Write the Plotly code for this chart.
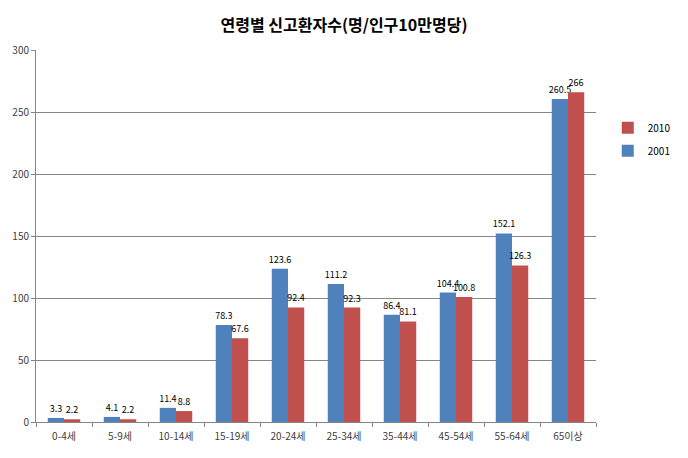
import plotly.graph_objects as go

categories = ["0-4세", "5-9세", "10-14세", "15-19세", "20-24세", "25-34세", "35-44세", "45-54세", "55-64세", "65이상"]
values_2001 = [3.3, 4.1, 11.4, 78.3, 123.6, 111.2, 86.4, 104.4, 152.1, 260.5]
values_2010 = [2.2, 2.2, 8.8, 67.6, 92.4, 92.3, 81.1, 100.8, 126.3, 266]
labels_2001 = ["3.3", "4.1", "11.4", "78.3", "123.6", "111.2", "86.4", "104.4", "152.1", "260.5"]
labels_2010 = ["2.2", "2.2", "8.8", "67.6", "92.4", "92.3", "81.1", "100.8", "126.3", "266"]
y_ticks = [0, 50, 100, 150, 200, 250, 300]

FONT = "Noto Sans CJK KR"

fig = go.Figure()
fig.add_trace(go.Bar(
    name="2001", x=categories, y=values_2001, text=labels_2001, legendgroup="a", legendrank=2,
    textposition="outside", constraintext="none", cliponaxis=False,
    textfont=dict(size=9, color="#000000", family=FONT),
    marker=dict(color="#4F81BD", line=dict(width=0)),
))
fig.add_trace(go.Bar(
    name="2010", x=categories, y=values_2010, text=labels_2010, legendgroup="b", legendrank=1,
    textposition="outside", constraintext="none", cliponaxis=False,
    textfont=dict(size=9, color="#000000", family=FONT),
    marker=dict(color="#C0504D", line=dict(width=0)),
))

fig.update_layout(
    width=688, height=458,
    margin=dict(l=36, r=84, t=50, b=36),
    paper_bgcolor="white", plot_bgcolor="white",
    font=dict(family=FONT, size=10, color="#404040"),
    title=dict(text="<b>연령별 신고환자수(명/인구10만명당)</b>", x=0.5, xanchor="center",
               y=0.945, yanchor="middle", font=dict(size=16, color="#000000", family=FONT)),
    barmode="group", bargap=0.42, bargroupgap=0,
    showlegend=True,
    legend=dict(x=1.021, y=0.83, xanchor="left", yanchor="top", traceorder="grouped",
                tracegroupgap=4,
                font=dict(size=10, color="#000000", family=FONT), bgcolor="rgba(0,0,0,0)"),
    xaxis=dict(
        showline=True, linecolor="#868686", linewidth=1,
        ticks="outside", tickson="boundaries", ticklen=4, tickcolor="#868686",
        ticklabelstandoff=5,
        tickfont=dict(size=10, color="#404040"), showgrid=False,
    ),
    yaxis=dict(
        range=[0, 300], tickvals=y_ticks, showline=True, linecolor="#868686", linewidth=1,
        ticks="outside", ticklen=4, tickcolor="#868686",
        showgrid=True, gridcolor="#868686", gridwidth=1,
        tickfont=dict(size=10, color="#404040"), zeroline=False,
    ),
)

fig.write_html("out.html", config={"displayModeBar": False},
               post_script="document.body.style.margin='0';")
